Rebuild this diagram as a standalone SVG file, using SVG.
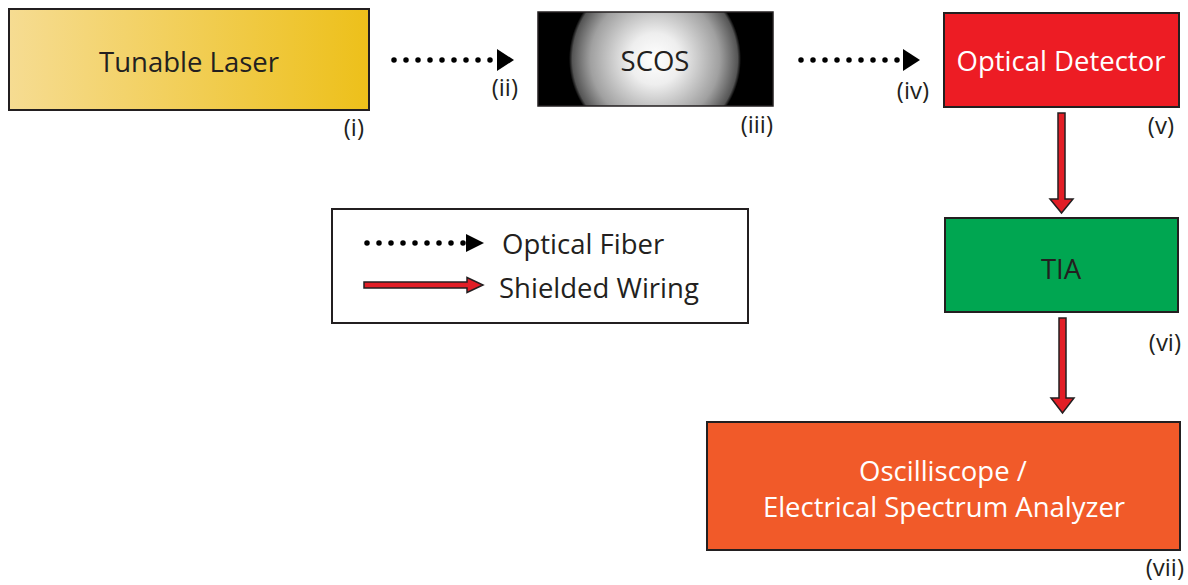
<svg xmlns="http://www.w3.org/2000/svg" width="1188" height="585" viewBox="0 0 1188 585">
<style>
  .box { stroke: #231f20; stroke-width: 2; }
  .t { font-family: "Open Sans", "Noto Sans", sans-serif; font-size: 27.5px; text-anchor: middle; }
  .lab { font-family: "Open Sans", "Noto Sans", sans-serif; font-size: 24px; text-anchor: end; fill: #231f20; }
  .dots { stroke: #000; stroke-width: 5.5; stroke-linecap: round; stroke-dasharray: 0 12; fill: none; }
  .red { fill: #e21e26; stroke: #231f20; stroke-width: 1.5; stroke-linejoin: miter; }
</style>
<defs>
  <linearGradient id="laserGrad" x1="0" y1="0" x2="1" y2="0">
    <stop offset="0" stop-color="#f6dc92"/>
    <stop offset="1" stop-color="#edc01a"/>
  </linearGradient>
  <radialGradient id="scosGrad" gradientUnits="userSpaceOnUse" cx="655" cy="59" r="86">
    <stop offset="0" stop-color="#ffffff"/>
    <stop offset="0.3" stop-color="#eeeeee"/>
    <stop offset="0.75" stop-color="#a0a0a0"/>
    <stop offset="0.96" stop-color="#555555"/>
    <stop offset="1" stop-color="#000000"/>
  </radialGradient>
</defs>

<g id="laser">
  <rect class="box" x="9" y="9" width="360" height="101" fill="url(#laserGrad)"/>
  <text class="t" x="189" y="72" fill="#231f20">Tunable Laser</text>
  <text class="lab" x="364" y="136">(i)</text>
</g>

<g id="scos">
  <rect x="538" y="12" width="235" height="94" fill="url(#scosGrad)" stroke="#231f20" stroke-width="1.5"/>
  <text class="t" x="655" y="71" fill="#231f20">SCOS</text>
  <text class="lab" x="773" y="133">(iii)</text>
</g>

<g id="detector">
  <rect class="box" x="944" y="13" width="235" height="94" fill="#ed1c24"/>
  <text class="t" x="1061" y="71" fill="#ffffff">Optical Detector</text>
  <text class="lab" x="1174" y="134">(v)</text>
</g>

<g id="tia">
  <rect class="box" x="945" y="218" width="233" height="94" fill="#00a651"/>
  <text class="t" x="1061" y="279" fill="#231f20">TIA</text>
  <text class="lab" x="1181" y="351">(vi)</text>
</g>

<g id="analyzer">
  <rect class="box" x="707" y="422" width="473" height="128" fill="#f15a29"/>
  <text class="t" x="943" y="481" fill="#ffffff">Oscilliscope /</text>
  <text class="t" x="944" y="517" fill="#ffffff">Electrical Spectrum Analyzer</text>
  <text class="lab" x="1184" y="576">(vii)</text>
</g>

<g id="legend">
  <rect x="332" y="209" width="416" height="114" fill="#ffffff" stroke="#231f20" stroke-width="2"/>
  <line class="dots" x1="367" y1="243" x2="464" y2="243"/>
  <polygon points="466,234 484,243 466,252" fill="#000"/>
  <text class="t" x="502" y="254" style="text-anchor:start" fill="#231f20">Optical Fiber</text>
  <polygon class="red" points="364,282 467,282 467,277.5 483,285 467,292.5 467,288 364,288"/>
  <text class="t" x="499" y="298" style="text-anchor:start" fill="#231f20">Shielded Wiring</text>
</g>

<g id="connectors">
  <line class="dots" x1="394" y1="60" x2="491" y2="60"/>
  <polygon points="497,49 514,60 497,71" fill="#000"/>
  <text class="lab" x="518" y="96">(ii)</text>
  <line class="dots" x1="801" y1="60" x2="898" y2="60"/>
  <polygon points="903,49 920,60 903,71" fill="#000"/>
  <text class="lab" x="929" y="99">(iv)</text>
  <polygon class="red" points="1058,113 1065,113 1065,199 1073,199 1061.5,213 1050,199 1058,199"/>
  <polygon class="red" points="1059,318 1066,318 1066,398 1074,398 1062.5,413 1051,398 1059,398"/>
</g>
</svg>
